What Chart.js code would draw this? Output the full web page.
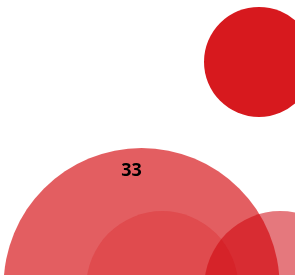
<!DOCTYPE html>
<html>
<head>
<meta charset="utf-8">
<script src="https://cdn.jsdelivr.net/npm/chart.js@4/dist/chart.umd.min.js"></script>
<style>
  html, body { margin: 0; padding: 0; background: #fff; }
  #wrap { width: 295px; height: 275px; }
</style>
</head>
<body>
<div id="wrap"><canvas id="myChart" width="295" height="275"></canvas></div>
<script>
// bubble values (x, y in axis units, r in px)
const bubbleX = [87.8, 48, 55, 95];
const bubbleY = [77.5, -4, -4.4, -4.4];
const bubbleR = [55, 138, 76, 76];
const bubbleColors = [
  "rgba(215, 25, 30, 1)",
  "rgba(215, 25, 30, 0.7)",
  "rgba(215, 25, 30, 0.28)",
  "rgba(205, 0, 10, 0.53)"
];

// text label
const labelText = ["33"];
const labelX = [44.6];
const labelY = [37.8];

const puntos = bubbleX.map((x, i) => ({ x: x, y: bubbleY[i], r: bubbleR[i] }));

const etiquetas = {
  id: "etiquetas",
  afterDatasetsDraw(chart) {
    const ctx = chart.ctx;
    const sx = chart.scales.x;
    const sy = chart.scales.y;
    ctx.save();
    ctx.font = "bold 18px 'Open Sans', sans-serif";
    ctx.fillStyle = "#000";
    ctx.textAlign = "center";
    ctx.textBaseline = "middle";
    labelText.forEach((t, i) => {
      ctx.fillText(t, sx.getPixelForValue(labelX[i]), sy.getPixelForValue(labelY[i]));
    });
    ctx.restore();
  }
};

const myChart = new Chart("myChart", {
  type: "bubble",
  data: {
    datasets: [
      {
        data: puntos,
        backgroundColor: bubbleColors,
        borderWidth: 0,
        hoverBorderWidth: 0
      }
    ]
  },
  options: {
    responsive: false,
    animation: false,
    layout: { padding: 0, autoPadding: false },
    plugins: {
      legend: { display: false },
      tooltip: { enabled: false }
    },
    scales: {
      x: { display: false, min: 0, max: 100 },
      y: { display: false, min: 0, max: 100 }
    }
  },
  plugins: [etiquetas]
});
</script>
</body>
</html>
